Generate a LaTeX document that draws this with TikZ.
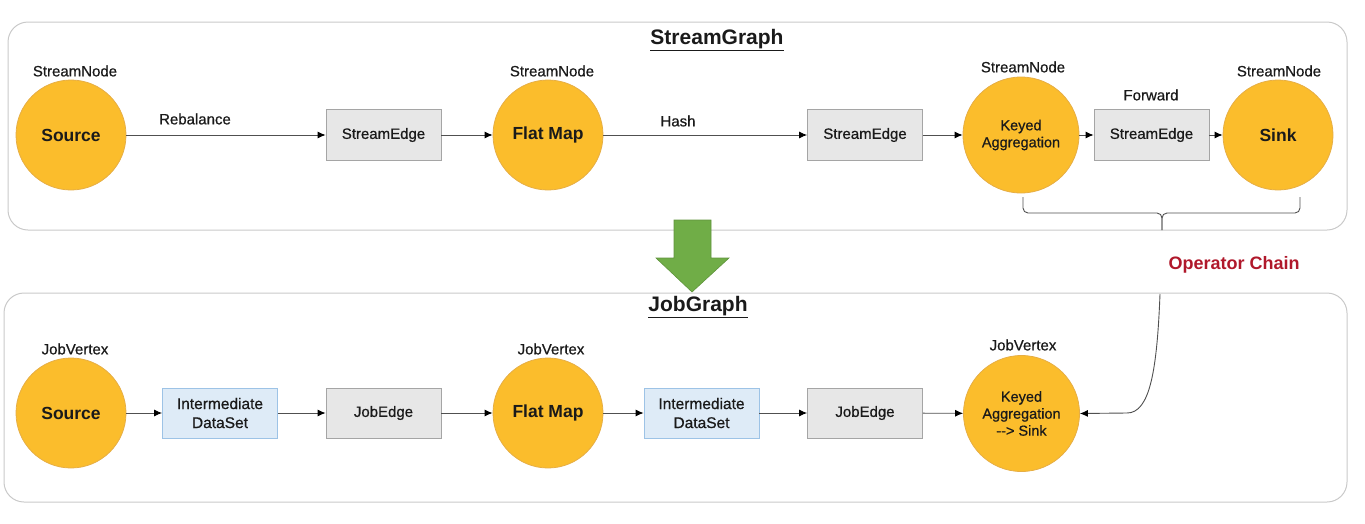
\documentclass[tikz,border=0pt]{standalone}
\usepackage{fontspec}
\setmainfont{Liberation Sans}
\newfontfamily\medfont[FakeBold=0.6]{Liberation Sans}
\usetikzlibrary{arrows.meta}
\definecolor{circfill}{HTML}{FBBD2C}
\definecolor{circdraw}{HTML}{E6AE45}
\definecolor{boxfill}{HTML}{E7E7E7}
\definecolor{boxdraw}{HTML}{A5A5A5}
\definecolor{dsfill}{HTML}{DEEBF7}
\definecolor{dsdraw}{HTML}{9DC3E6}
\definecolor{framecol}{HTML}{C9C9C9}
\definecolor{chainred}{HTML}{B0182B}
\definecolor{arrowgreen}{HTML}{70AD47}
\definecolor{conncol}{HTML}{505050}
\definecolor{txt}{HTML}{1A1A1A}
\tikzset{
  frame/.style={draw=framecol, line width=1pt, rounded corners=20pt},
  opnode/.style={circle, fill=circfill, draw=circdraw, line width=0.8pt, minimum size=110pt, inner sep=0pt, align=center, text=txt, font=\fontsize{17.5}{20}\selectfont\bfseries},
  bigop/.style={opnode, minimum size=116pt, font=\fontsize{14.5}{17}\selectfont\medfont},
  edgebox/.style={rectangle, fill=boxfill, draw=boxdraw, line width=0.8pt, minimum width=115pt, minimum height=51pt, inner sep=0pt, align=center, text=txt, font=\fontsize{15}{18}\selectfont\medfont},
  dsbox/.style={edgebox, fill=dsfill, draw=dsdraw, minimum height=50pt, font=\fontsize{15.5}{19}\selectfont\medfont},
  lbl/.style={font=\fontsize{15}{18}\selectfont\medfont, text=txt, inner sep=0pt},
  title/.style={font=\fontsize{21}{24}\selectfont\bfseries, text=txt, inner sep=0pt},
  conn/.style={draw=conncol, line width=0.9pt, -{Latex[length=8pt,width=7pt,color=black]}},
  brace/.style={draw=conncol, line width=0.9pt, rounded corners=5pt},
}
\begin{document}
\begin{tikzpicture}[x=1pt,y=-1pt]
\useasboundingbox (0,0) rectangle (1365,523);
% frames
\draw[frame] (8,22) rectangle (1347,230);
\draw[frame] (4,293) rectangle (1347,502);
\node[title] (t1) at (717,40) {\underline{StreamGraph}};
\node[title] (t2) at (698,307) {\underline{JobGraph}};

% top row
\node[opnode] (src1) at (71,135) {Source};
\node[lbl] (src1l) at (75,71) {StreamNode};
\node[edgebox] (se1) at (383.5,135) {\raisebox{-1.5pt}{StreamEdge}};
\node[opnode] (fm1) at (548,135) {Flat Map};
\node[lbl] (fm1l) at (552,71) {StreamNode};
\node[edgebox] (se2) at (865,135) {\raisebox{-1.5pt}{StreamEdge}};
\node[bigop] (ka1) at (1021,135) {Keyed\\Aggregation};
\node[lbl] (ka1l) at (1023,67) {StreamNode};
\node[edgebox] (se3) at (1151.5,135) {\raisebox{-1.5pt}{StreamEdge}};
\node[opnode] (sk1) at (1278,135) {Sink};
\node[lbl] (sk1l) at (1279,71) {StreamNode};
\node[lbl] (rebal) at (195,119) {Rebalance};
\node[lbl] (hash) at (678,121) {Hash};
\node[lbl] (fwd) at (1151,95) {Forward};

\draw[conn] (src1) -- (se1);
\draw[conn] (se1) -- (fm1);
\draw[conn] (fm1) -- (se2);
\draw[conn] (se2) -- (ka1);
\draw[conn] (ka1) -- (se3);
\draw[conn] (se3) -- (sk1);

% brace
\draw[brace] (1023,197) -- (1023,213) -- (1162,213) -- (1162,230);
\draw[brace] (1300,197) -- (1300,213) -- (1162,213) -- (1162,230);
\node[font=\fontsize{18}{21}\selectfont\bfseries, text=chainred, inner sep=0pt] (chain) at (1234,265) {Operator Chain};

% green arrow
\draw[fill=arrowgreen, draw=arrowgreen!85!black, line width=0.6pt]
  (674,220) -- (711,220) -- (711,258) -- (729,258) -- (692,292) -- (656,258) -- (674,258) -- cycle;

% bottom row
\node[opnode] (src2) at (71,413) {Source};
\node[lbl] (src2l) at (75,349) {JobVertex};
\node[dsbox] (ds1) at (220,413) {Intermediate\\DataSet};
\node[edgebox, minimum height=50pt] (je1) at (383.5,413) {\raisebox{-1.5pt}{JobEdge}};
\node[opnode] (fm2) at (548,413) {Flat Map};
\node[lbl] (fm2l) at (551,349) {JobVertex};
\node[dsbox] (ds2) at (701.5,413) {Intermediate\\DataSet};
\node[edgebox, minimum height=50pt] (je2) at (865,413) {\raisebox{-1.5pt}{JobEdge}};
\node[bigop] (ka2) at (1021.5,413.5) {Keyed\\Aggregation\\-{}-> Sink};
\node[lbl] (ka2l) at (1023,345) {JobVertex};

\draw[conn] (src2) -- (ds1);
\draw[conn] (ds1) -- (je1);
\draw[conn] (je1) -- (fm2);
\draw[conn] (fm2) -- (ds2);
\draw[conn] (ds2) -- (je2);
\draw[conn] (je2) -- (ka2);

\coordinate (ocstart) at (1160,294);
\coordinate (ocbend) at (1127,413);
\draw[conn] (ocstart) .. controls (1157,370) and (1150,413) .. (ocbend) -- (ka2.east);
\end{tikzpicture}
\end{document}
